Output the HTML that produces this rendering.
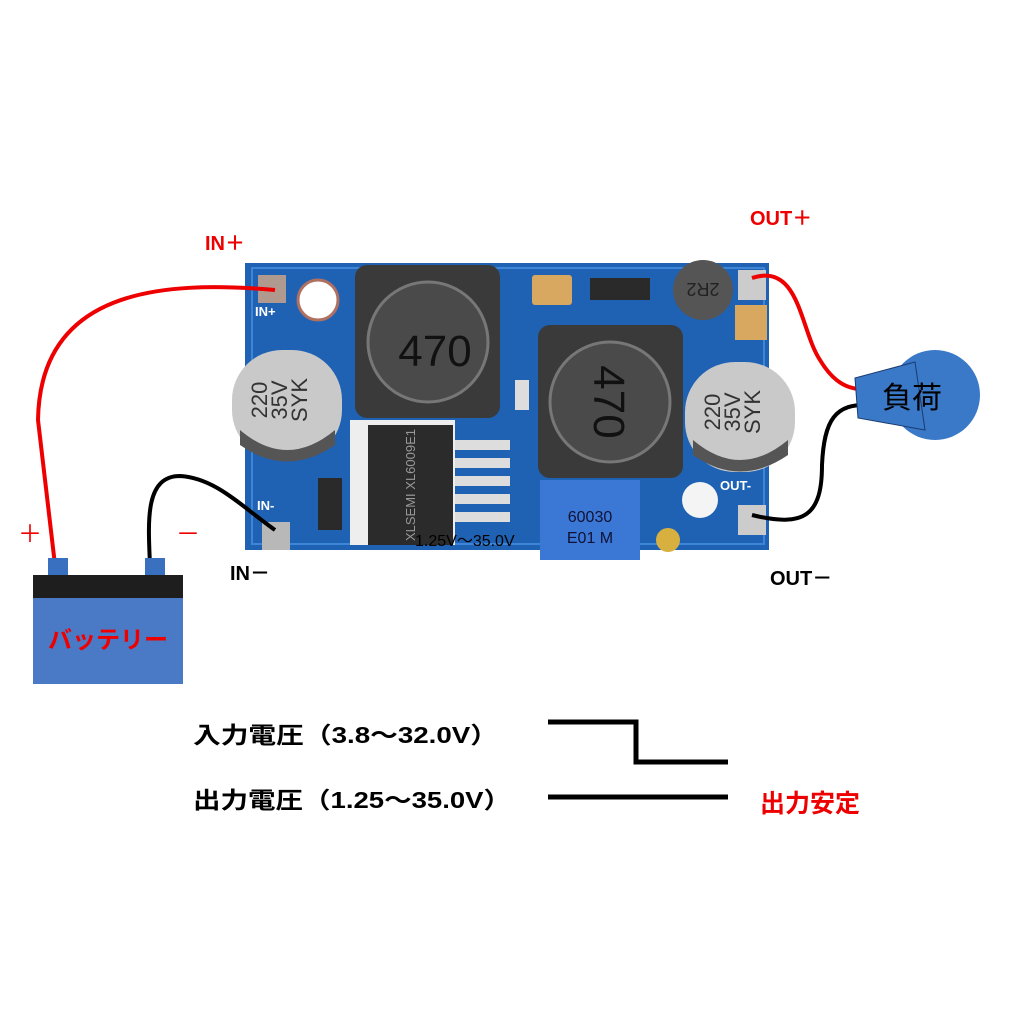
<!DOCTYPE html>
<html><head><meta charset="utf-8"><style>
body{margin:0;background:#fff;width:1024px;height:1024px;overflow:hidden}
svg{display:block}
text{font-family:"Liberation Sans","Noto Sans CJK JP",sans-serif}
</style></head><body>
<svg width="1024" height="1024" viewBox="0 0 1024 1024">
<!-- board -->
<rect x="245" y="263" width="524" height="287" fill="#1f62b4"/>
<rect x="252" y="268" width="512" height="276" fill="none" stroke="#3d85d6" stroke-width="2"/>
<!-- pads -->
<rect x="258" y="275" width="28" height="28" fill="#b09a90"/>
<rect x="262" y="522" width="28" height="28" fill="#b8b8b8"/>
<rect x="738" y="270" width="28" height="30" fill="#ccc"/>
<rect x="738" y="505" width="28" height="30" fill="#ccc"/>
<circle cx="318" cy="300" r="20" fill="#fff" stroke="#b07060" stroke-width="3"/>
<circle cx="700" cy="500" r="18" fill="#f4f4f4"/>
<text x="255" y="316" font-size="13" font-weight="bold" fill="#fff">IN+</text>
<text x="257" y="510" font-size="13" font-weight="bold" fill="#fff">IN-</text>
<text x="720" y="490" font-size="13" font-weight="bold" fill="#fff">OUT-</text>
<!-- small components -->
<rect x="532" y="275" width="40" height="30" rx="3" fill="#d8a860"/>
<rect x="590" y="278" width="60" height="22" fill="#2a2a2a"/>
<circle cx="703" cy="290" r="30" fill="#555"/>
<text x="703" y="297" font-size="18" fill="#222" text-anchor="middle" transform="rotate(180 703 290)">2R2</text>
<rect x="735" y="305" width="32" height="35" fill="#d8a860"/>
<rect x="515" y="380" width="14" height="30" fill="#ddd"/>
<!-- inductors -->
<rect x="355" y="265" width="145" height="153" rx="12" fill="#3a3a3a"/>
<circle cx="428" cy="342" r="60" fill="#4a4a4a" stroke="#777" stroke-width="3"/>
<text x="435" y="366" font-size="44" text-anchor="middle" fill="#111">470</text>
<rect x="538" y="325" width="145" height="153" rx="12" fill="#3a3a3a"/>
<circle cx="610" cy="402" r="60" fill="#4a4a4a" stroke="#777" stroke-width="3"/>
<text x="610" y="418" font-size="44" text-anchor="middle" fill="#111" transform="rotate(90 610 402)">470</text>
<!-- caps -->
<rect x="232" y="350" width="110" height="110" rx="50" fill="#c9c9c9"/>
<path d="M240 430 Q287 470 335 430 L335 445 Q287 478 240 445Z" fill="#555"/>
<g transform="rotate(-90 287 400)" font-size="22" fill="#333" text-anchor="middle">
<text x="287" y="380">220</text><text x="287" y="400">35V</text><text x="287" y="420">SYK</text></g>
<rect x="685" y="362" width="110" height="110" rx="50" fill="#c9c9c9"/>
<path d="M693 440 Q740 480 788 440 L788 455 Q740 488 693 455Z" fill="#555"/>
<g transform="rotate(-90 740 412)" font-size="22" fill="#333" text-anchor="middle">
<text x="740" y="392">220</text><text x="740" y="412">35V</text><text x="740" y="432">SYK</text></g>
<!-- IC -->
<rect x="350" y="420" width="105" height="125" fill="#eee"/>
<rect x="368" y="425" width="85" height="120" fill="#2b2b2b"/>
<g fill="#ddd"><rect x="455" y="440" width="55" height="10"/><rect x="455" y="458" width="55" height="10"/><rect x="455" y="476" width="55" height="10"/><rect x="455" y="494" width="55" height="10"/><rect x="455" y="512" width="55" height="10"/></g>
<text x="410" y="490" font-size="13" fill="#999" text-anchor="middle" transform="rotate(-90 410 485)">XLSEMI XL6009E1</text>
<rect x="318" y="478" width="24" height="52" fill="#2a2a2a"/>
<!-- pot -->
<rect x="540" y="480" width="100" height="80" fill="#3b78d6"/>
<text x="590" y="522" font-size="16" fill="#113" text-anchor="middle">60030</text>
<text x="590" y="543" font-size="16" fill="#113" text-anchor="middle">E01 M</text>
<circle cx="668" cy="540" r="12" fill="#d8b040"/>
<text x="415" y="546" font-size="16" fill="#000">1.25V～35.0V</text>
<!-- wires -->
<path d="M275 290 C160 280 40 290 38 420 L55 565" fill="none" stroke="#e00" stroke-width="4"/>
<path d="M275 530 C240 505 215 478 180 476 C145 476 148 520 150 565" fill="none" stroke="#000" stroke-width="4"/>
<path d="M752 278 C800 262 800 330 820 360 C835 385 850 390 870 390" fill="none" stroke="#e00" stroke-width="4"/>
<path d="M752 515 C805 528 822 515 822 465 C824 420 835 403 870 405" fill="none" stroke="#000" stroke-width="4"/>
<!-- load -->
<circle cx="935" cy="395" r="45" fill="#3a78c8"/>
<path d="M855 378 L915 362 L925 430 L858 418Z" fill="#3a78c8" stroke="#1a3c70" stroke-width="1"/>
<text x="912" y="408" font-size="30" text-anchor="middle" fill="#000">負荷</text>
<!-- battery -->
<rect x="48" y="558" width="20" height="18" fill="#3a70c0"/>
<rect x="145" y="558" width="20" height="18" fill="#3a70c0"/>
<rect x="33" y="575" width="150" height="23" fill="#1e1e1e"/>
<rect x="33" y="598" width="150" height="86" fill="#4a7ac6"/>
<text x="108" y="648" font-size="24" font-weight="bold" fill="#e00" text-anchor="middle">バッテリー</text>
<!-- labels -->
<text x="205" y="250" font-size="20" font-weight="bold" fill="#e00">IN＋</text>
<text x="750" y="225" font-size="20" font-weight="bold" fill="#e00">OUT＋</text>
<text x="18" y="542" font-size="24" fill="#e00">＋</text>
<text x="176" y="542" font-size="24" fill="#e00">－</text>
<text x="230" y="580" font-size="20" font-weight="bold" fill="#000">IN－</text>
<text x="770" y="585" font-size="20" font-weight="bold" fill="#000">OUT－</text>
<text x="193" y="743" font-size="23" font-weight="bold" fill="#000" textLength="305" lengthAdjust="spacingAndGlyphs">入力電圧（3.8～32.0V）</text>
<text x="193" y="808" font-size="23" font-weight="bold" fill="#000" textLength="318" lengthAdjust="spacingAndGlyphs">出力電圧（1.25～35.0V）</text>
<path d="M548 722 L636 722 L636 762 L728 762" fill="none" stroke="#000" stroke-width="5"/>
<path d="M548 797 L728 797" stroke="#000" stroke-width="5"/>
<text x="760" y="812" font-size="25" font-weight="bold" fill="#e00">出力安定</text>
</svg>
</body></html>
